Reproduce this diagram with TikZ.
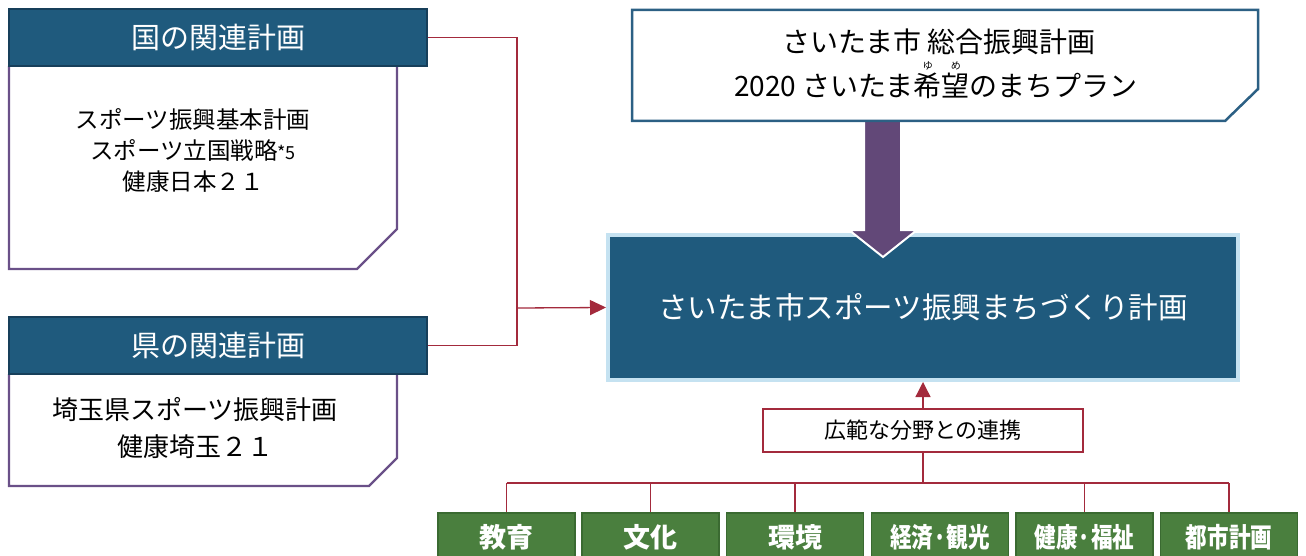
\documentclass[tikz,border=0pt]{standalone}
\usepackage{fontspec}
\usepackage{graphicx}
\setmainfont{Noto Sans CJK JP}
\usetikzlibrary{arrows.meta}
\definecolor{hdrblue}{HTML}{1F5A7D}
\definecolor{hdredge}{HTML}{173F5A}
\definecolor{purp}{HTML}{6A5088}
\definecolor{linkred}{HTML}{A32A3C}
\definecolor{lightb}{HTML}{C5E2F1}
\definecolor{arrowp}{HTML}{624878}
\definecolor{grn}{HTML}{4A7F3E}
\definecolor{grnedge}{HTML}{3A6A31}
\definecolor{topedge}{HTML}{2C6084}
\newcommand\myruby[2]{\leavevmode\rlap{\smash{\raisebox{0.98em}{\makebox[1em][c]{\fontsize{10}{10}\selectfont #2}}}}#1}
\begin{document}
\begin{tikzpicture}[x=1pt,y=-1pt,
  hdr/.style={draw=hdredge, line width=1.2pt, fill=hdrblue, text=white,
    minimum width=418pt, minimum height=57pt, inner sep=0pt,
    font=\fontsize{29}{30}\selectfont},
  bodyedge/.style={draw=purp, line width=2.3pt},
  redln/.style={draw=linkred, line width=1.3pt},
  grnbox/.style={draw=grnedge, line width=1.5pt, fill=grn, text=white,
    minimum width=137pt, minimum height=48pt, inner sep=0pt,
    font=\fontsize{27}{27}\selectfont\bfseries}]
\useasboundingbox (0,0) rectangle (1306,556);

% national plans
\draw[bodyedge, fill=white] (9,66) -- (9,269) -- (357,269) -- (397,229) -- (397,66);
\node[hdr] (hdrA) at (218,37.5) {国の関連計画};
\node[align=center, inner sep=0pt, font=\fontsize{23.5}{31}\selectfont] (txtA) at (193,151)
  {スポーツ振興基本計画\\スポーツ立国戦略{\fontsize{18}{18}\selectfont *5}\\健康日本２１};

% prefectural plans
\draw[bodyedge, fill=white] (9,374) -- (9,486) -- (369,486) -- (397,458) -- (397,374);
\node[hdr] (hdrB) at (218,345.5) {県の関連計画};
\node[align=center, inner sep=0pt, font=\fontsize{26}{37}\selectfont] (txtB) at (195,428.5)
  {埼玉県スポーツ振興計画\\健康埼玉２１};

% main plan
\node[draw=lightb, line width=4pt, fill=hdrblue, text=white, minimum width=630pt,
  minimum height=145pt, inner sep=0pt, font=\fontsize{29.5}{30}\selectfont] (main) at (923,307.5)
  {\raisebox{-4pt}{さいたま市スポーツ振興まちづくり計画}};

% big arrow
\draw[fill=arrowp, draw=white, line width=2pt, line join=miter]
  (864,120) -- (901,120) -- (901,230) -- (917,230) -- (883,257) -- (849,230) -- (864,230) -- cycle;

% city comprehensive plan
\draw[draw=topedge, line width=2.5pt, fill=white]
  (632,10) -- (1258,10) -- (1258,89) -- (1225,121) -- (632,121) -- cycle;
\node[inner sep=0pt, font=\fontsize{28}{28}\selectfont] (top1) at (939,42) {さいたま市 総合振興計画};
\node[inner sep=0pt, font=\fontsize{28}{28}\selectfont] (top2) at (936,86)
  {2020 さいたま\myruby{希}{ゆ}\myruby{望}{め}のまちプラン};

% connectors from related plans
\coordinate (jn) at (517,308);
\draw[redln] (hdrA.east) -| (jn);
\draw[redln] (hdrB.east) -| (jn);
\draw[redln, -{Triangle[length=16pt,width=15pt]}] (jn) -- (main.west);

% cooperation box
\node[draw=linkred, line width=2pt, fill=white, minimum width=320pt, minimum height=43pt,
  inner sep=0pt, font=\fontsize{22}{22}\selectfont] (link) at (923,430.5) {広範な分野との連携};
\draw[redln, -{Triangle[length=15pt,width=15pt]}] (link.north) -- (main.south);

% fields
\node[grnbox] (g1) at (506.5,537) {教育};
\node[grnbox] (g2) at (650.5,537) {文化};
\node[grnbox] (g3) at (795,537) {環境};
\node[grnbox] (g4) at (940,537) {\scalebox{0.8}[1]{経済·観光}};
\node[grnbox] (g5) at (1084.5,537) {\scalebox{0.8}[1]{健康·福祉}};
\node[grnbox] (g6) at (1229,537) {\scalebox{0.8}[1]{都市計画}};

\coordinate (bus) at (923,483);
\draw[redln] (link.south) -- (bus);
\draw[redln] (g1.north |- bus) -- (g6.north |- bus);
\foreach \g in {g1,g2,g3,g5,g6} \draw[redln] (\g.north |- bus) -- (\g.north);
\end{tikzpicture}
\end{document}
